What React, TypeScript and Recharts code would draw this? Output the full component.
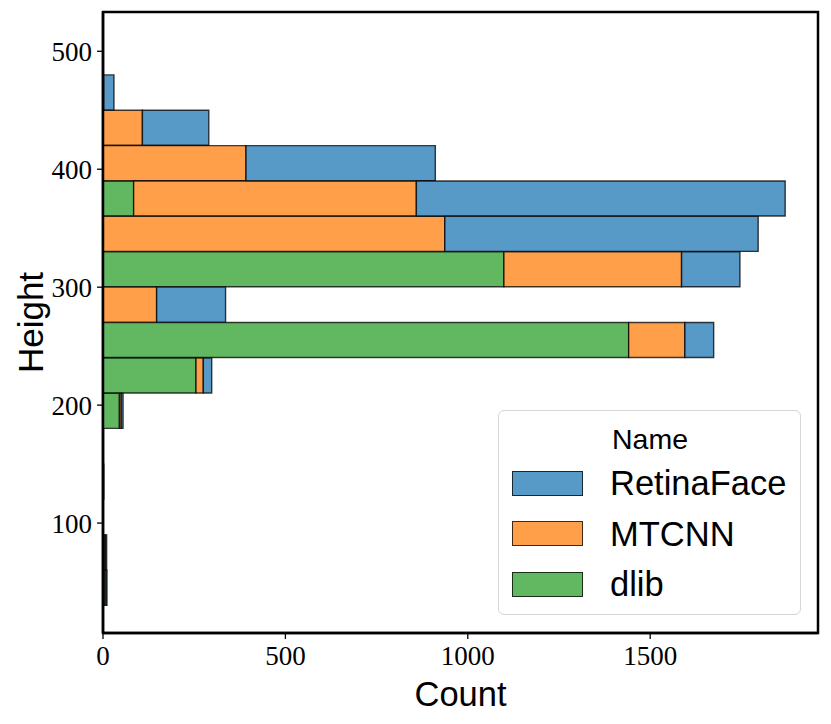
import {
  BarChart,
  Bar,
  XAxis,
  YAxis,
  Legend,
  ReferenceArea,
} from "recharts";

// histogram bins of face height (bin centres, 30 px wide), top to bottom
const BIN_CENTERS = [465, 435, 405, 375, 345, 315, 285, 255, 225, 195, 165, 135, 105, 75, 45];
const DLIB = [0, 0, 0, 84, 0, 1099, 0, 1441, 255, 45, 0, 0, 0, 4, 5];
const MTCNN = [2, 108, 392, 775, 937, 487, 147, 154, 20, 5, 0, 1, 0, 3, 4];
const RETINAFACE = [28, 182, 519, 1011, 859, 160, 189, 79, 23, 5, 0, 1, 0, 3, 2];

const X_TICKS = [0, 500, 1000, 1500];
const Y_TICKS = [100, 200, 300, 400, 500];
const X_DOMAIN: [number, number] = [0, 1960];
const Y_DOMAIN: [number, number] = [6.8, 533.3];

const SERIES = [
  { key: "RetinaFace", fill: "#5799c7" },
  { key: "MTCNN", fill: "#ff9f4a" },
  { key: "dlib", fill: "#61b861" },
];

const data = BIN_CENTERS.map((bin, i) => ({
  bin,
  dlib: DLIB[i],
  MTCNN: MTCNN[i],
  RetinaFace: RETINAFACE[i],
}));

const SANS = "'Liberation Sans', Arial, sans-serif";
const SERIF = "'Liberation Serif', 'Times New Roman', serif";

function LegendBox() {
  return (
    <div
      style={{
        width: 303,
        height: 205,
        border: "1.5px solid #d6d6d6",
        borderRadius: 6,
        background: "rgba(255,255,255,0.8)",
        fontFamily: SANS,
        color: "#000",
        boxSizing: "border-box",
        position: "relative",
      }}
    >
      <div
        style={{
          position: "absolute",
          top: 12,
          left: 0,
          width: "100%",
          textAlign: "center",
          fontSize: 28.5,
        }}
      >
        <span style={{ marginLeft: 1 }}>Name</span>
      </div>
      {SERIES.map((s, i) => (
        <div
          key={s.key}
          style={{
            position: "absolute",
            left: 13,
            top: 58 + i * 50.5,
            display: "flex",
            alignItems: "center",
            height: 28,
          }}
        >
          <div
            style={{
              width: 71,
              height: 25,
              background: s.fill,
              border: "1.5px solid rgba(0,0,0,0.75)",
              boxSizing: "border-box",
            }}
          />
          <span style={{ marginLeft: 27, fontSize: 34.5, lineHeight: "28px" }}>{s.key}</span>
        </div>
      ))}
    </div>
  );
}

export default function App() {
  return (
    <div style={{ position: "absolute", left: 0, top: 0, width: 831, height: 724, background: "#fff" }}>
      <BarChart
        width={831}
        height={724}
        data={data}
        layout="vertical"
        margin={{ top: 12, right: 13, left: 0, bottom: 0 }}
        barCategoryGap={0}
        barGap={0}
      >
        <XAxis
          type="number"
          domain={X_DOMAIN}
          ticks={X_TICKS}
          allowDataOverflow
          height={91}
          tickSize={6}
          tickMargin={7}
          axisLine={{ stroke: "#000", strokeWidth: 2.5 }}
          tickLine={{ stroke: "#000", strokeWidth: 1.3 }}
          tick={{ fontSize: 27, fontFamily: SERIF, fill: "#000" }}
          label={{
            content: ({ viewBox }: any) => (
              <text
                x={viewBox.x + viewBox.width / 2}
                y={viewBox.y + viewBox.height - 18}
                textAnchor="middle"
                fontSize={34.5}
                fontFamily={SANS}
                fill="#000"
              >
                Count
              </text>
            ),
          }}
        />
        <YAxis
          type="number"
          dataKey="bin"
          domain={Y_DOMAIN}
          ticks={Y_TICKS}
          reversed
          allowDataOverflow
          width={103}
          tickSize={6}
          tickMargin={5}
          axisLine={{ stroke: "#000", strokeWidth: 2.5 }}
          tickLine={{ stroke: "#000", strokeWidth: 1.3 }}
          tick={{ fontSize: 27, fontFamily: SERIF, fill: "#000" }}
          label={{
            content: ({ viewBox }: any) => {
              const cx = 30;
              const cy = viewBox.y + viewBox.height / 2;
              return (
                <text
                  x={cx}
                  y={cy}
                  transform={`rotate(-90 ${cx} ${cy})`}
                  textAnchor="middle"
                  dominantBaseline="central"
                  fontSize={35}
                  fontFamily={SANS}
                  fill="#000"
                >
                  Height
                </text>
              );
            },
          }}
        />
        <Bar dataKey="dlib" stackId="a" fill="#61b861" stroke="#000" strokeOpacity={0.75} strokeWidth={1.4} isAnimationActive={false} />
        <Bar dataKey="MTCNN" stackId="a" fill="#ff9f4a" stroke="#000" strokeOpacity={0.75} strokeWidth={1.4} isAnimationActive={false} />
        <Bar dataKey="RetinaFace" stackId="a" fill="#5799c7" stroke="#000" strokeOpacity={0.75} strokeWidth={1.4} isAnimationActive={false} />
        <ReferenceArea
          x1={X_DOMAIN[0]}
          x2={X_DOMAIN[1]}
          y1={Y_DOMAIN[0]}
          y2={Y_DOMAIN[1]}
          fill="none"
          stroke="#000"
          strokeWidth={2.5}
          ifOverflow="visible"
        />
        <Legend
          layout="vertical"
          align="center"
          verticalAlign="middle"
          content={() => <LegendBox />}
          wrapperStyle={{ left: 498, top: 410, width: 303, height: 205 }}
        />
      </BarChart>
    </div>
  );
}
